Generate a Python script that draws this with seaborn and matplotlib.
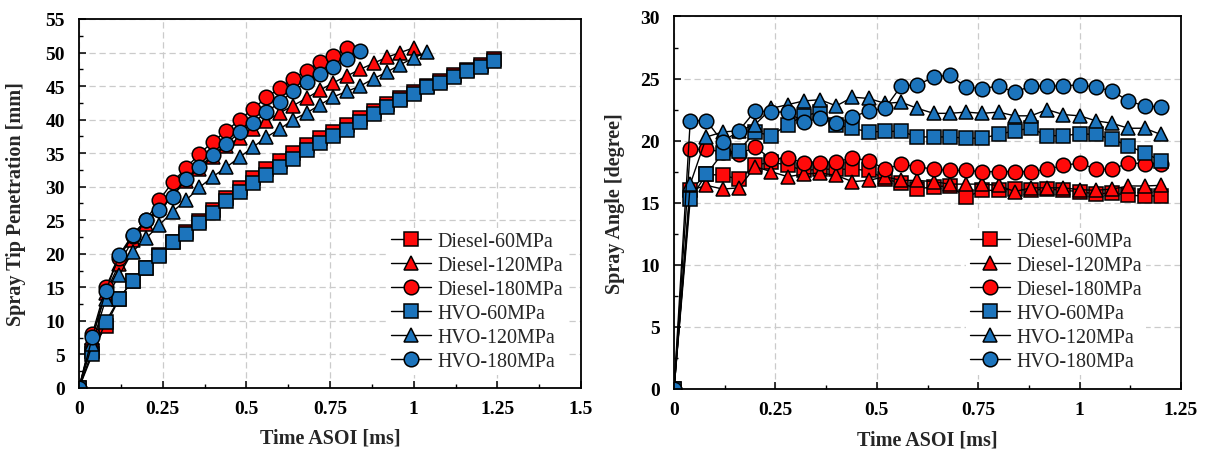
import numpy as np
import pandas as pd
import matplotlib
matplotlib.use("Agg")
import matplotlib.pyplot as plt
import seaborn as sns
from matplotlib.ticker import MultipleLocator

# ---------------- data ----------------
time_ms = [0, 0.04, 0.08, 0.12, 0.16, 0.20, 0.24, 0.28, 0.32, 0.36, 0.40, 0.44,
           0.48, 0.52, 0.56, 0.60, 0.64, 0.68, 0.72, 0.76, 0.80, 0.84, 0.88,
           0.92, 0.96, 1.00, 1.04, 1.08, 1.12, 1.16, 1.20, 1.24]

series_names = ["Diesel-60MPa", "Diesel-120MPa", "Diesel-180MPa",
                "HVO-60MPa", "HVO-120MPa", "HVO-180MPa"]

# Spray tip penetration [mm]
pen_diesel_60 = [0, 5.5, 9.3, 13.3, 16.0, 17.9, 19.8, 21.8, 23.3, 24.9, 26.5, 28.3,
                 29.8, 31.3, 32.6, 33.9, 35.0, 36.2, 37.2, 38.2, 39.2, 40.2, 41.3,
                 42.3, 43.2, 44.1, 45.0, 45.8, 46.6, 47.4, 48.1, 49.0]
pen_diesel_120 = [0, 7.5, 14.2, 18.5, 22.0, 24.5, 26.8, 28.8, 30.8, 32.7, 34.5, 36.0,
                  37.3, 38.6, 39.8, 41.0, 42.1, 43.2, 44.4, 45.5, 46.5, 47.5, 48.4,
                  49.3, 50.0, 50.7]
pen_diesel_180 = [0, 8.1, 15.0, 19.4, 22.7, 25.0, 28.0, 30.7, 32.8, 34.9, 36.7, 38.3,
                  40.0, 41.6, 43.3, 44.7, 46.1, 47.3, 48.6, 49.5, 50.6]
pen_hvo_60 = [0, 5.0, 9.9, 13.3, 16.0, 17.9, 19.7, 21.7, 23.0, 24.6, 26.1, 27.8,
              29.2, 30.6, 31.8, 33.0, 34.2, 35.4, 36.5, 37.5, 38.5, 39.6, 40.8,
              41.9, 42.9, 43.8, 44.8, 45.5, 46.3, 47.2, 47.8, 48.7]
pen_hvo_120 = [0, 6.6, 13.3, 16.8, 20.3, 22.3, 24.3, 26.3, 28.0, 29.9, 31.5, 32.9,
               34.4, 35.9, 37.4, 38.6, 40.0, 41.0, 42.2, 43.4, 44.2, 45.0, 46.1,
               47.1, 48.2, 49.2, 50.1]
pen_hvo_180 = [0, 7.6, 14.4, 19.8, 22.85, 25.0, 26.6, 28.5, 31.1, 33.0, 34.7, 36.4,
               38.1, 39.5, 41.1, 42.6, 44.2, 45.6, 46.8, 47.8, 49.0, 50.2]

# Spray angle [degree]
ang_diesel_60 = [0, 16.0, 17.3, 17.2, 16.9, 18.0, 18.3, 18.0, 17.6, 17.7, 17.7, 17.7,
                 17.6, 16.9, 16.6, 16.1, 16.3, 16.35, 15.45, 16.0, 16.0, 16.1, 16.0,
                 16.1, 16.0, 15.9, 15.7, 15.8, 15.6, 15.55, 15.55]
ang_diesel_120 = [0, 16.0, 16.4, 16.1, 16.2, 17.9, 17.5, 17.1, 17.3, 17.4, 17.2, 16.7,
                  16.8, 17.1, 16.8, 16.8, 16.7, 16.5, 16.5, 16.5, 16.4, 15.9, 16.2,
                  16.2, 16.2, 16.05, 16.0, 16.1, 16.35, 16.35, 16.4]
ang_diesel_180 = [0, 19.3, 19.3, 19.1, 18.9, 19.5, 18.5, 18.6, 18.2, 18.2, 18.3, 18.6,
                  18.4, 17.7, 18.1, 17.9, 17.7, 17.6, 17.6, 17.5, 17.5, 17.5, 17.5,
                  17.7, 18.0, 18.2, 17.7, 17.7, 18.2, 18.15, 18.15]
ang_hvo_60 = [0, 15.3, 17.3, 19.0, 19.2, 20.7, 20.4, 21.3, 22.0, 22.3, 21.3, 21.0,
              20.7, 20.75, 20.75, 20.3, 20.3, 20.3, 20.2, 20.2, 20.5, 20.8, 21.0,
              20.4, 20.4, 20.55, 20.5, 20.1, 19.6, 19.0, 18.4]
ang_hvo_120 = [0, 16.5, 20.3, 20.7, 20.8, 21.3, 22.6, 22.9, 23.2, 23.3, 22.8, 23.5,
               23.4, 23.0, 23.1, 22.6, 22.2, 22.2, 22.3, 22.2, 22.3, 22.0, 22.0,
               22.5, 22.1, 22.0, 21.6, 21.4, 21.0, 21.0, 20.5]
ang_hvo_180 = [0, 21.6, 21.6, 19.9, 20.8, 22.4, 22.3, 22.3, 21.5, 21.8, 21.4, 21.9,
               22.4, 22.6, 24.4, 24.5, 25.1, 25.3, 24.3, 24.2, 24.4, 23.9, 24.4,
               24.4, 24.4, 24.5, 24.3, 24.0, 23.2, 22.8, 22.7]

left_xticks = [0, 0.25, 0.5, 0.75, 1.0, 1.25, 1.5]
left_xticklabels = ["0", "0.25", "0.5", "0.75", "1", "1.25", "1.5"]
left_yticks = [0, 5, 10, 15, 20, 25, 30, 35, 40, 45, 50, 55]
right_xticks = [0, 0.25, 0.5, 0.75, 1.0, 1.25]
right_xticklabels = ["0", "0.25", "0.5", "0.75", "1", "1.25"]
right_yticks = [0, 5, 10, 15, 20, 25, 30]

# ---------------- style ----------------
sns.set_theme(style="ticks")
plt.rcParams["font.family"] = ["Liberation Serif", "DejaVu Serif"]
plt.rcParams["axes.edgecolor"] = "black"
plt.rcParams["axes.linewidth"] = 1.3

RED = "#FF0A0A"
BLUE = "#1C74BC"
styles = [("s", RED), ("^", RED), ("o", RED), ("s", BLUE), ("^", BLUE), ("o", BLUE)]

fig = plt.figure(figsize=(12.06, 4.52), dpi=100)
ax1 = fig.add_axes([0.0655, 0.1394, 0.4163, 0.8164])
ax2 = fig.add_axes([0.5589, 0.1372, 0.4204, 0.8241])


def draw(ax, data_list):
    for name, vals, (mk, col) in zip(series_names, data_list, styles):
        df = pd.DataFrame({"t": time_ms[:len(vals)], "v": vals})
        sns.lineplot(data=df, x="t", y="v", ax=ax, estimator=None, errorbar=None,
                     sort=False, color="black", linewidth=1.0, marker=mk,
                     markersize=10.5 if mk != "s" else 9.6,
                     markerfacecolor=col, markeredgecolor="black",
                     markeredgewidth=1.1, label=name, legend=False)


draw(ax1, [pen_diesel_60, pen_diesel_120, pen_diesel_180,
           pen_hvo_60, pen_hvo_120, pen_hvo_180])
draw(ax2, [ang_diesel_60, ang_diesel_120, ang_diesel_180,
           ang_hvo_60, ang_hvo_120, ang_hvo_180])


def style_axes(ax, xticks, xlabels, yticks, xlim, ylim, ylabel, ylab_x, leg_xy):
    ax.set_xlim(*xlim)
    ax.set_ylim(*ylim)
    ax.set_xticks(xticks)
    ax.set_xticklabels(xlabels, fontweight="bold", fontsize=14)
    ax.set_yticks(yticks)
    ax.set_yticklabels([str(v) for v in yticks], fontweight="bold", fontsize=14)
    ax.xaxis.set_minor_locator(MultipleLocator(0.125))
    ax.yaxis.set_minor_locator(MultipleLocator(2.5))
    ax.tick_params(which="major", direction="in", length=5, width=1.1,
                   colors="black")
    ax.tick_params(which="minor", direction="in", length=3, width=1.0,
                   colors="black")
    ax.tick_params(axis="x", which="major", pad=9)
    ax.tick_params(axis="y", which="major", pad=10)
    ax.grid(True, which="major", linestyle=(0, (5, 3)), color="#CBCBCB",
            linewidth=0.9)
    ax.set_axisbelow(True)
    for s in ax.spines.values():
        s.set_visible(True)
        s.set_color("black")
        s.set_linewidth(1.3)
    ax.set_xlabel("Time ASOI [ms]", fontweight="bold", fontsize=14.5)
    ax.set_ylabel(ylabel, fontweight="bold", fontsize=14.5)
    ax.xaxis.set_label_coords(0.5, -0.108)
    ax.yaxis.set_label_coords(ylab_x, 0.5)
    leg = ax.legend(loc="center", bbox_to_anchor=leg_xy, fontsize=14.4,
                    frameon=True, framealpha=1, facecolor="white",
                    edgecolor="none", handlelength=2.0, handletextpad=0.3,
                    labelspacing=0.25, borderpad=0.2, numpoints=1)
    return leg


style_axes(ax1, left_xticks, left_xticklabels, left_yticks, (0, 1.5), (0, 55),
           "Spray Tip Penetration [mm]", -0.106, (0.793, 0.234))
style_axes(ax2, right_xticks, right_xticklabels, right_yticks, (0, 1.25), (0, 30),
           "Spray Angle [degree]", -0.097, (0.753, 0.236))

fig.savefig("out.png", dpi=100)
